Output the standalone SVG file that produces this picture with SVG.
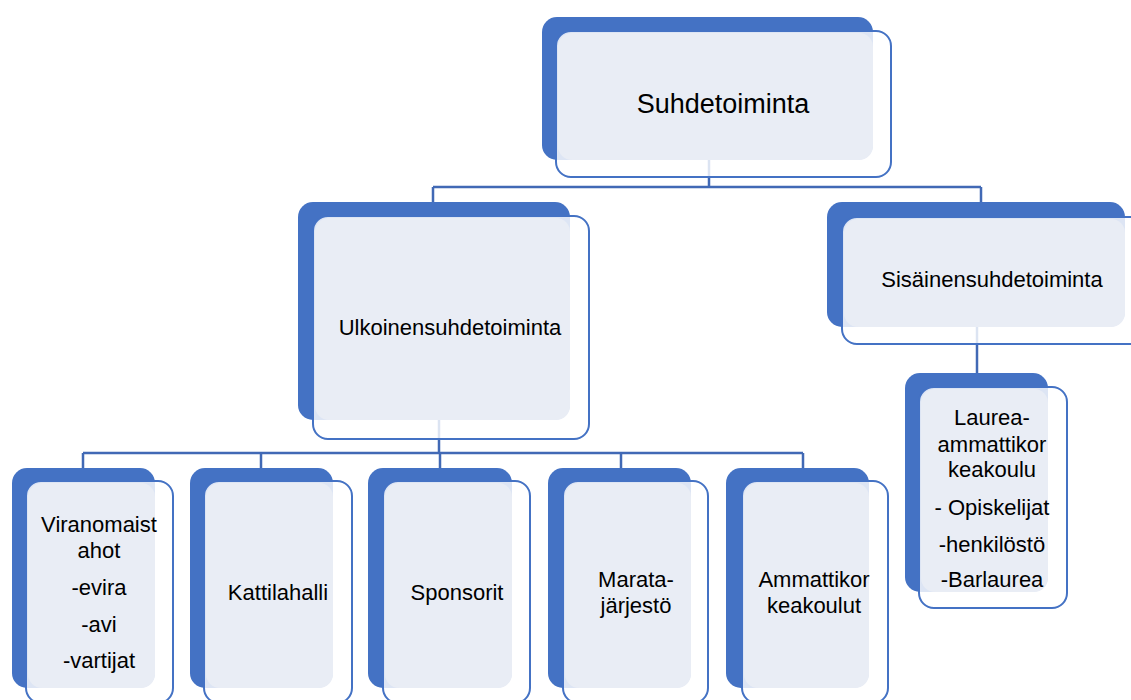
<svg xmlns="http://www.w3.org/2000/svg" width="1131" height="700" viewBox="0 0 1131 700">
<style>
.back{fill:#4472C4;}
.front{fill:#ffffff;fill-opacity:0.82;stroke:#4472C4;stroke-width:2;}
.light{fill:#E9EDF5;}
.conn{stroke:#4169B5;stroke-width:2.5;fill:none;}
text{font-family:"Liberation Sans",Arial,sans-serif;fill:#000;text-anchor:middle;}
.t1{font-size:27px;}
.t2{font-size:22px;}
</style>
<rect width="1131" height="700" fill="#ffffff"/>
<g id="connectors">
<path class="conn" d="M709,160 V187 M433,187 H981 M433,187 V203 M981,187 V203"/>
<path class="conn" d="M439,420 V453 M83,453 H803 M83,453 V468 M261,453 V468 M440,453 V468 M621,453 V468 M803,453 V468"/>
<path class="conn" d="M977,327 V373"/>
</g>
<g id="node-suhdetoiminta">
<rect class="back" x="542" y="17" width="331" height="143" rx="15"/>
<rect class="front" x="556" y="31" width="335" height="146" rx="15"/>
<rect class="light" x="558" y="33" width="315" height="127" rx="14"/>
<text class="t1" x="723" y="113">Suhdetoiminta</text>
</g>
<g id="node-ulkoinen">
<rect class="back" x="298" y="202" width="272" height="218" rx="15"/>
<rect class="front" x="313" y="216" width="276" height="223" rx="15"/>
<rect class="light" x="315" y="218" width="255" height="202" rx="14"/>
<text class="t2" x="450" y="335">Ulkoinensuhdetoiminta</text>
</g>
<g id="node-sisainen">
<rect class="back" x="827" y="202" width="298" height="125" rx="15"/>
<rect class="front" x="842" y="217" width="310" height="127" rx="15"/>
<rect class="light" x="844" y="219" width="281" height="108" rx="14"/>
<text class="t2" x="992" y="287">Sisäinensuhdetoiminta</text>
</g>
<g id="node-laurea">
<rect class="back" x="905" y="373" width="143" height="219" rx="15"/>
<rect class="front" x="919" y="387" width="148" height="221" rx="15"/>
<rect class="light" x="921" y="389" width="127" height="203" rx="14"/>
<text class="t2" x="992" y="425">Laurea-</text>
<text class="t2" x="992" y="452">ammattikor</text>
<text class="t2" x="992" y="477">keakoulu</text>
<text class="t2" x="992" y="515">- Opiskelijat</text>
<text class="t2" x="992" y="552">-henkilöstö</text>
<text class="t2" x="992" y="587">-Barlaurea</text>
</g>
<g id="node-viranomaiset">
<rect class="back" x="12" y="468" width="143" height="220" rx="15"/>
<rect class="front" x="26" y="481" width="147" height="222" rx="15"/>
<rect class="light" x="28" y="483" width="127" height="205" rx="14"/>
<text class="t2" x="99" y="532">Viranomaist</text>
<text class="t2" x="99" y="558">ahot</text>
<text class="t2" x="99" y="595">-evira</text>
<text class="t2" x="99" y="632">-avi</text>
<text class="t2" x="99" y="668">-vartijat</text>
</g>
<g id="node-kattilahalli">
<rect class="back" x="190" y="468" width="143" height="220" rx="15"/>
<rect class="front" x="204" y="481" width="148" height="222" rx="15"/>
<rect class="light" x="206" y="483" width="127" height="205" rx="14"/>
<text class="t2" x="278" y="600">Kattilahalli</text>
</g>
<g id="node-sponsorit">
<rect class="back" x="368" y="468" width="144" height="220" rx="15"/>
<rect class="front" x="383" y="481" width="147" height="222" rx="15"/>
<rect class="light" x="385" y="483" width="127" height="205" rx="14"/>
<text class="t2" x="457" y="600">Sponsorit</text>
</g>
<g id="node-marata">
<rect class="back" x="548" y="468" width="143" height="220" rx="15"/>
<rect class="front" x="563" y="481" width="145" height="222" rx="15"/>
<rect class="light" x="565" y="483" width="126" height="205" rx="14"/>
<text class="t2" x="636" y="587">Marata-</text>
<text class="t2" x="636" y="613">järjestö</text>
</g>
<g id="node-ammattikorkeakoulut">
<rect class="back" x="726" y="468" width="143" height="220" rx="15"/>
<rect class="front" x="742" y="481" width="146" height="222" rx="15"/>
<rect class="light" x="744" y="483" width="125" height="205" rx="14"/>
<text class="t2" x="814" y="587">Ammattikor</text>
<text class="t2" x="814" y="613">keakoulut</text>
</g>
</svg>
